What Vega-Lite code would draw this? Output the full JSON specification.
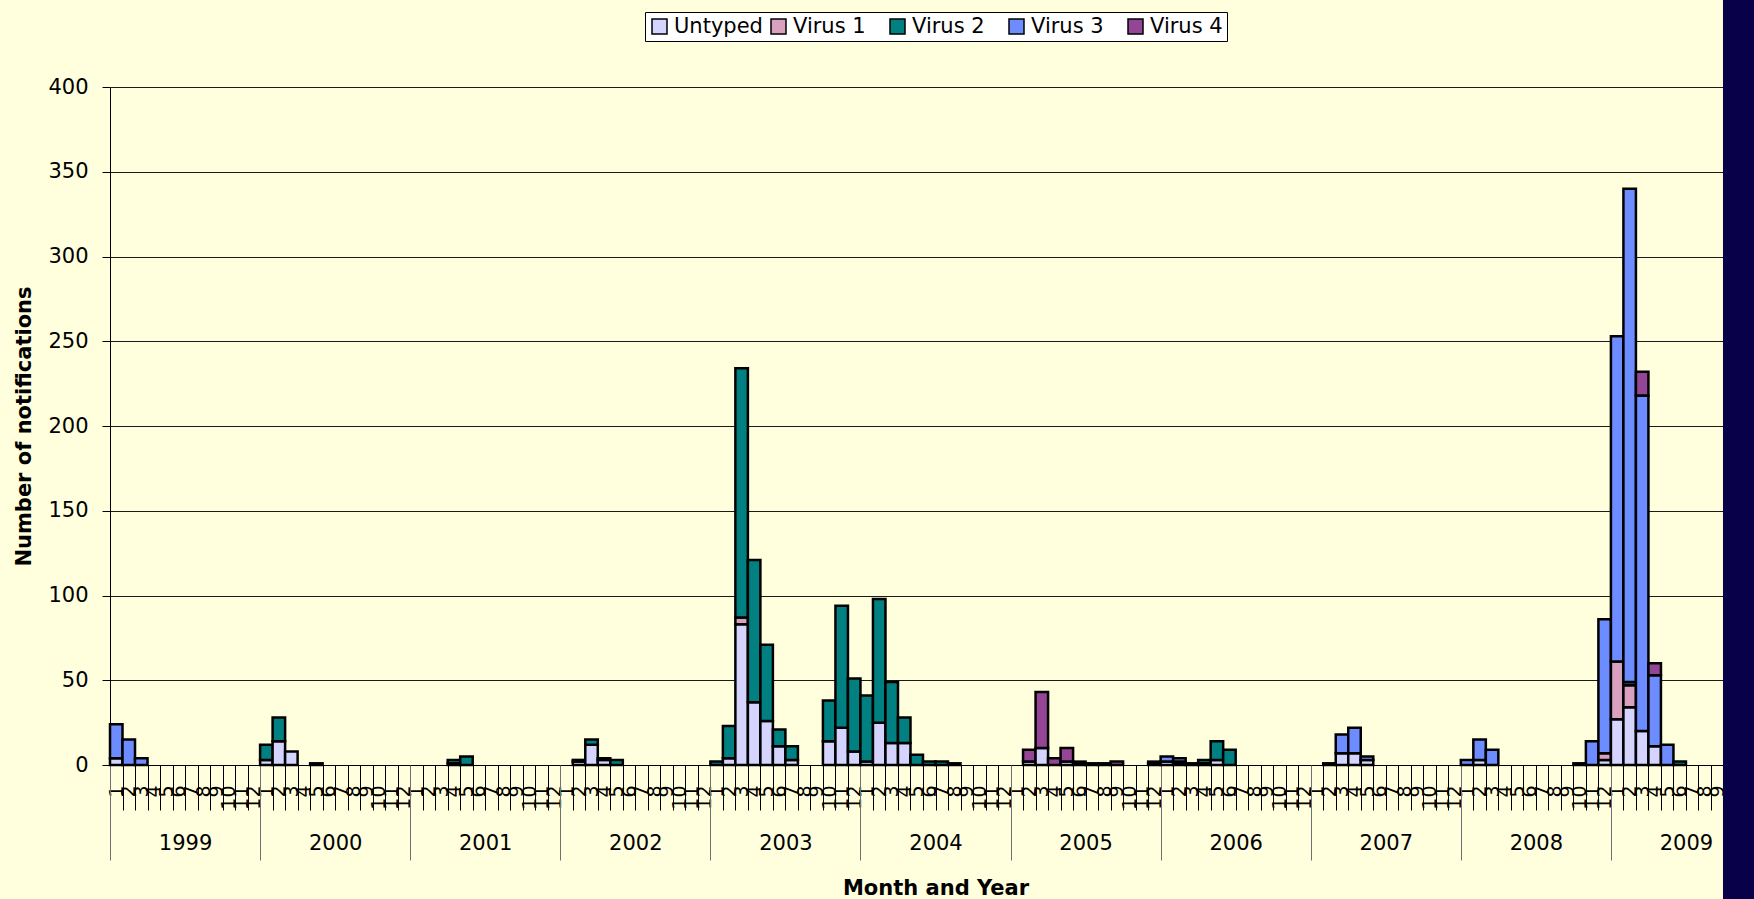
{
  "$schema": "https://vega.github.io/schema/vega-lite/v6.json",
  "width": 1651,
  "height": 678,
  "autosize": {"type": "none"},
  "padding": {"left": 110, "top": 87, "right": -7, "bottom": 134},
  "background": "#FFFFDD",
  "config": {"view": {"stroke": null}},
  "datasets": {
    "counts": [
      {"m":"1999-01","s":"Untyped","n":4},{"m":"1999-01","s":"Virus 3","n":20},
      {"m":"1999-02","s":"Virus 3","n":15},
      {"m":"1999-03","s":"Virus 3","n":4},
      {"m":"2000-01","s":"Untyped","n":3},{"m":"2000-01","s":"Virus 2","n":9},
      {"m":"2000-02","s":"Untyped","n":14},{"m":"2000-02","s":"Virus 2","n":14},
      {"m":"2000-03","s":"Untyped","n":8},
      {"m":"2000-05","s":"Untyped","n":1},
      {"m":"2001-04","s":"Untyped","n":1},{"m":"2001-04","s":"Virus 2","n":2},
      {"m":"2001-05","s":"Virus 2","n":5},
      {"m":"2002-02","s":"Untyped","n":2},{"m":"2002-02","s":"Virus 2","n":1},
      {"m":"2002-03","s":"Untyped","n":12},{"m":"2002-03","s":"Virus 2","n":3},
      {"m":"2002-04","s":"Untyped","n":3},{"m":"2002-04","s":"Virus 2","n":1},
      {"m":"2002-05","s":"Virus 2","n":3},
      {"m":"2003-01","s":"Virus 2","n":2},
      {"m":"2003-02","s":"Untyped","n":4},{"m":"2003-02","s":"Virus 2","n":19},
      {"m":"2003-03","s":"Untyped","n":83},{"m":"2003-03","s":"Virus 1","n":4},{"m":"2003-03","s":"Virus 2","n":147},
      {"m":"2003-04","s":"Untyped","n":37},{"m":"2003-04","s":"Virus 2","n":84},
      {"m":"2003-05","s":"Untyped","n":26},{"m":"2003-05","s":"Virus 2","n":45},
      {"m":"2003-06","s":"Untyped","n":11},{"m":"2003-06","s":"Virus 2","n":10},
      {"m":"2003-07","s":"Untyped","n":3},{"m":"2003-07","s":"Virus 2","n":8},
      {"m":"2003-10","s":"Untyped","n":14},{"m":"2003-10","s":"Virus 2","n":24},
      {"m":"2003-11","s":"Untyped","n":22},{"m":"2003-11","s":"Virus 2","n":72},
      {"m":"2003-12","s":"Untyped","n":8},{"m":"2003-12","s":"Virus 2","n":43},
      {"m":"2004-01","s":"Untyped","n":2},{"m":"2004-01","s":"Virus 2","n":39},
      {"m":"2004-02","s":"Untyped","n":25},{"m":"2004-02","s":"Virus 2","n":73},
      {"m":"2004-03","s":"Untyped","n":13},{"m":"2004-03","s":"Virus 2","n":36},
      {"m":"2004-04","s":"Untyped","n":13},{"m":"2004-04","s":"Virus 2","n":15},
      {"m":"2004-05","s":"Virus 2","n":6},
      {"m":"2004-06","s":"Virus 2","n":2},
      {"m":"2004-07","s":"Virus 2","n":2},
      {"m":"2004-08","s":"Virus 2","n":1},
      {"m":"2005-02","s":"Untyped","n":2},{"m":"2005-02","s":"Virus 4","n":7},
      {"m":"2005-03","s":"Untyped","n":10},{"m":"2005-03","s":"Virus 4","n":33},
      {"m":"2005-04","s":"Virus 4","n":4},
      {"m":"2005-05","s":"Untyped","n":2},{"m":"2005-05","s":"Virus 4","n":8},
      {"m":"2005-06","s":"Untyped","n":1},{"m":"2005-06","s":"Virus 4","n":1},
      {"m":"2005-07","s":"Untyped","n":1},
      {"m":"2005-08","s":"Untyped","n":1},
      {"m":"2005-09","s":"Virus 4","n":2},
      {"m":"2005-12","s":"Untyped","n":1},{"m":"2005-12","s":"Virus 2","n":1},
      {"m":"2006-01","s":"Untyped","n":2},{"m":"2006-01","s":"Virus 3","n":3},
      {"m":"2006-02","s":"Untyped","n":1},{"m":"2006-02","s":"Virus 2","n":1},{"m":"2006-02","s":"Virus 3","n":2},
      {"m":"2006-03","s":"Untyped","n":1},
      {"m":"2006-04","s":"Untyped","n":1},{"m":"2006-04","s":"Virus 2","n":2},
      {"m":"2006-05","s":"Untyped","n":3},{"m":"2006-05","s":"Virus 2","n":11},
      {"m":"2006-06","s":"Virus 2","n":9},
      {"m":"2007-02","s":"Untyped","n":1},
      {"m":"2007-03","s":"Untyped","n":7},{"m":"2007-03","s":"Virus 3","n":11},
      {"m":"2007-04","s":"Untyped","n":7},{"m":"2007-04","s":"Virus 3","n":15},
      {"m":"2007-05","s":"Untyped","n":3},{"m":"2007-05","s":"Virus 3","n":2},
      {"m":"2008-01","s":"Virus 3","n":3},
      {"m":"2008-02","s":"Untyped","n":3},{"m":"2008-02","s":"Virus 3","n":12},
      {"m":"2008-03","s":"Virus 3","n":9},
      {"m":"2008-10","s":"Untyped","n":1},
      {"m":"2008-11","s":"Virus 3","n":14},
      {"m":"2008-12","s":"Untyped","n":3},{"m":"2008-12","s":"Virus 1","n":4},{"m":"2008-12","s":"Virus 3","n":79},
      {"m":"2009-01","s":"Untyped","n":27},{"m":"2009-01","s":"Virus 1","n":34},{"m":"2009-01","s":"Virus 3","n":192},
      {"m":"2009-02","s":"Untyped","n":34},{"m":"2009-02","s":"Virus 1","n":13},{"m":"2009-02","s":"Virus 2","n":2},{"m":"2009-02","s":"Virus 3","n":291},
      {"m":"2009-03","s":"Untyped","n":20},{"m":"2009-03","s":"Virus 3","n":198},{"m":"2009-03","s":"Virus 4","n":14},
      {"m":"2009-04","s":"Untyped","n":11},{"m":"2009-04","s":"Virus 3","n":42},{"m":"2009-04","s":"Virus 4","n":7},
      {"m":"2009-05","s":"Virus 3","n":12},
      {"m":"2009-06","s":"Virus 2","n":2}
    ],
    "strip": [{"m":"2009-10"},{"m":"2009-11"},{"m":"2009-12"}],
    "years": [{"y":"1999"},{"y":"2000"},{"y":"2001"},{"y":"2002"},{"y":"2003"},{"y":"2004"},{"y":"2005"},{"y":"2006"},{"y":"2007"},{"y":"2008"},{"y":"2009"}]
  },
  "layer": [
    {
      "data": {"name": "counts"},
      "mark": {"type": "bar", "stroke": "#000000", "strokeWidth": 2.5},
      "encoding": {
        "x": {
          "field": "m", "type": "ordinal",
          "scale": {"paddingInner": 0, "paddingOuter": 0, "domain": ["1999-01","1999-02","1999-03","1999-04","1999-05","1999-06","1999-07","1999-08","1999-09","1999-10","1999-11","1999-12","2000-01","2000-02","2000-03","2000-04","2000-05","2000-06","2000-07","2000-08","2000-09","2000-10","2000-11","2000-12","2001-01","2001-02","2001-03","2001-04","2001-05","2001-06","2001-07","2001-08","2001-09","2001-10","2001-11","2001-12","2002-01","2002-02","2002-03","2002-04","2002-05","2002-06","2002-07","2002-08","2002-09","2002-10","2002-11","2002-12","2003-01","2003-02","2003-03","2003-04","2003-05","2003-06","2003-07","2003-08","2003-09","2003-10","2003-11","2003-12","2004-01","2004-02","2004-03","2004-04","2004-05","2004-06","2004-07","2004-08","2004-09","2004-10","2004-11","2004-12","2005-01","2005-02","2005-03","2005-04","2005-05","2005-06","2005-07","2005-08","2005-09","2005-10","2005-11","2005-12","2006-01","2006-02","2006-03","2006-04","2006-05","2006-06","2006-07","2006-08","2006-09","2006-10","2006-11","2006-12","2007-01","2007-02","2007-03","2007-04","2007-05","2007-06","2007-07","2007-08","2007-09","2007-10","2007-11","2007-12","2008-01","2008-02","2008-03","2008-04","2008-05","2008-06","2008-07","2008-08","2008-09","2008-10","2008-11","2008-12","2009-01","2009-02","2009-03","2009-04","2009-05","2009-06","2009-07","2009-08","2009-09","2009-10","2009-11","2009-12"]},
          "axis": {
            "title": null,
            "labelExpr": "isString(datum.value) && length(datum.value) >= 7 && datum.value < '2009-10' ? '' + toNumber(substring(datum.value, 5, 7)) : ''",
            "labelAngle": 270,
            "labelAlign": "right",
            "labelBaseline": "middle",
            "labelFont": "DejaVu Sans",
            "labelFontSize": 19,
            "labelColor": "#000000",
            "labelPadding": -25,
            "labelOverlap": false,
            "tickBand": "extent",
            "tickSize": 45,
            "tickColor": "#000000",
            "domainColor": "#000000",
            "grid": false
          }
        },
        "y": {
          "field": "n", "type": "quantitative", "stack": "zero",
          "scale": {"domain": [0, 400], "nice": false},
          "axis": {
            "title": "Number of notifications",
            "titleFont": "DejaVu Sans",
            "titleFontSize": 21,
            "titleFontWeight": "bold",
            "titleColor": "#000000",
            "titlePadding": 13,
            "values": [0, 50, 100, 150, 200, 250, 300, 350, 400],
            "labelFont": "DejaVu Sans",
            "labelFontSize": 21,
            "labelColor": "#000000",
            "labelPadding": 14,
            "tickSize": 8,
            "tickColor": "#000000",
            "domainColor": "#000000",
            "gridColor": "#1a1a1a",
            "gridWidth": 1
          }
        },
        "order": {"field": "s", "type": "nominal", "sort": "ascending"},
        "color": {
          "field": "s", "type": "nominal",
          "scale": {"domain": ["Untyped","Virus 1","Virus 2","Virus 3","Virus 4"], "range": ["#D4D4FF","#D9A0C0","#008080","#6C8CFF","#954596"]},
          "legend": {
            "title": null,
            "orient": "none",
            "direction": "horizontal",
            "columns": 5,
            "gridAlign": "all",
            "legendX": 535,
            "legendY": -75,
            "fillColor": "#FFFFFF",
            "strokeColor": "#000000",
            "padding": 4,
            "symbolType": "square",
            "symbolSize": 225,
            "symbolStrokeColor": "#000000",
            "symbolStrokeWidth": 1.5,
            "labelFont": "DejaVu Sans",
            "labelFontSize": 21,
            "labelColor": "#000000",
            "labelOffset": 4,
            "labelLimit": 300,
            "columnPadding": 5
          }
        }
      }
    },
    {
      "data": {"name": "strip"},
      "mark": {"type": "bar", "color": "#080048", "stroke": "#080048", "strokeWidth": 1},
      "encoding": {
        "x": {
          "field": "m", "type": "ordinal",
          "scale": {"paddingInner": 0, "paddingOuter": 0, "domain": ["1999-01","1999-02","1999-03","1999-04","1999-05","1999-06","1999-07","1999-08","1999-09","1999-10","1999-11","1999-12","2000-01","2000-02","2000-03","2000-04","2000-05","2000-06","2000-07","2000-08","2000-09","2000-10","2000-11","2000-12","2001-01","2001-02","2001-03","2001-04","2001-05","2001-06","2001-07","2001-08","2001-09","2001-10","2001-11","2001-12","2002-01","2002-02","2002-03","2002-04","2002-05","2002-06","2002-07","2002-08","2002-09","2002-10","2002-11","2002-12","2003-01","2003-02","2003-03","2003-04","2003-05","2003-06","2003-07","2003-08","2003-09","2003-10","2003-11","2003-12","2004-01","2004-02","2004-03","2004-04","2004-05","2004-06","2004-07","2004-08","2004-09","2004-10","2004-11","2004-12","2005-01","2005-02","2005-03","2005-04","2005-05","2005-06","2005-07","2005-08","2005-09","2005-10","2005-11","2005-12","2006-01","2006-02","2006-03","2006-04","2006-05","2006-06","2006-07","2006-08","2006-09","2006-10","2006-11","2006-12","2007-01","2007-02","2007-03","2007-04","2007-05","2007-06","2007-07","2007-08","2007-09","2007-10","2007-11","2007-12","2008-01","2008-02","2008-03","2008-04","2008-05","2008-06","2008-07","2008-08","2008-09","2008-10","2008-11","2008-12","2009-01","2009-02","2009-03","2009-04","2009-05","2009-06","2009-07","2009-08","2009-09","2009-10","2009-11","2009-12"]},
          "axis": null
        },
        "y": {"datum": 470, "type": "quantitative", "scale": {"domain": [0, 400], "nice": false}},
        "y2": {"datum": -90}
      }
    },
    {
      "data": {"name": "years"},
      "mark": {"type": "rule", "opacity": 0},
      "encoding": {
        "x": {
          "field": "y", "type": "ordinal",
          "scale": {"paddingInner": 0, "paddingOuter": 0, "domain": ["1999","2000","2001","2002","2003","2004","2005","2006","2007","2008","2009"]},
          "axis": {
            "orient": "bottom",
            "title": "Month and Year",
            "titleFont": "DejaVu Sans",
            "titleFontSize": 21,
            "titleFontWeight": "bold",
            "titleColor": "#000000",
            "titlePadding": 17,
            "labelAngle": 0,
            "labelFont": "DejaVu Sans",
            "labelFontSize": 21,
            "labelColor": "#000000",
            "labelBaseline": "top",
            "labelPadding": -28,
            "tickBand": "extent",
            "tickSize": 95,
            "tickColor": "#707070",
            "domain": false,
            "grid": false
          }
        }
      }
    }
  ],
  "resolve": {"scale": {"x": "independent"}, "axis": {"x": "independent"}}
}
